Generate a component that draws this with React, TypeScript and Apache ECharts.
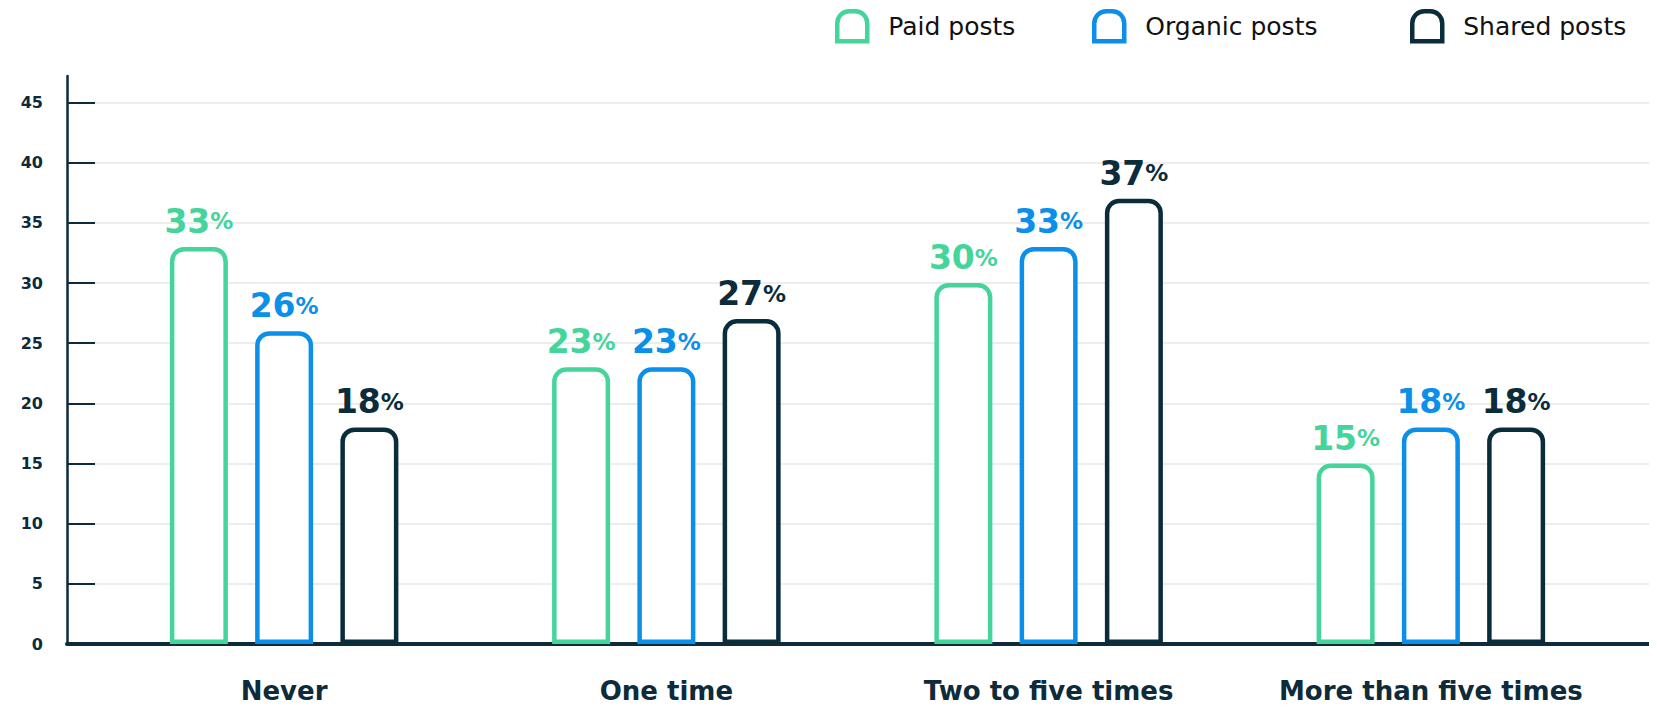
import React, { useEffect, useRef } from "react";
import * as echarts from "echarts";

const categories = ["Never", "One time", "Two to five times", "More than five times"];
const seriesNames = ["Paid posts", "Organic posts", "Shared posts"];
const paidPosts = [33, 23, 30, 15];
const organicPosts = [26, 23, 33, 18];
const sharedPosts = [18, 27, 37, 18];
const yTicks = { min: 0, max: 45, interval: 5 };

const COLORS = ["#45d49a", "#0b8fe9", "#0a2c3b"];
const DARK = "#0d2b3a";
const FONT = "DejaVu Sans";
const ICON = "path://M0,30 L0,12 A12,12 0 0 1 12,0 L18,0 A12,12 0 0 1 30,12 L30,30 Z";

export default function App() {
  const ref = useRef<HTMLDivElement>(null);
  useEffect(() => {
    if (!ref.current) return;
    const chart = echarts.init(ref.current, null, { renderer: "svg" });
    const values = [paidPosts, organicPosts, sharedPosts];
    const legendLefts = [835, 1092, 1410];
    const option: any = {
      animation: false,
      backgroundColor: "#ffffff",
      legend: seriesNames.map((n, i) => ({
        data: [{ name: n }],
        left: legendLefts[i],
        top: 9,
        padding: 0,
        icon: ICON,
        itemWidth: 30,
        itemHeight: 30,
        itemStyle: { color: "#ffffff", borderColor: COLORS[i], borderWidth: 4.5 },
        textStyle: { fontFamily: FONT, fontSize: 25, color: "#111111", padding: [0, 0, 0, 16] },
        selectedMode: false,
      })),
      grid: [
        { left: 67, right: 3, top: 76, bottom: 64 },
        { left: 67, right: 3, top: 102.5, bottom: 64 },
        { left: 93, right: 35, top: 102.5, bottom: 64 },
      ],
      xAxis: [
        {
          gridIndex: 0, type: "value", min: 0, max: 1,
          axisLine: { show: true, onZero: false, lineStyle: { color: DARK, width: 4 } },
          axisTick: { show: false }, axisLabel: { show: false }, splitLine: { show: false },
        },
        {
          gridIndex: 1, type: "value", min: 0, max: 1, show: false,
        },
        {
          gridIndex: 2, type: "category", data: categories,
          axisLine: { show: false }, axisTick: { show: false }, splitLine: { show: false },
          axisLabel: { interval: 0, margin: 34, fontFamily: FONT, fontSize: 26, fontWeight: "bold", color: DARK },
        },
      ],
      yAxis: [
        {
          gridIndex: 0, type: "value", min: 0, max: 1,
          axisLine: { show: true, lineStyle: { color: DARK, width: 2.5 } },
          axisTick: { show: false }, axisLabel: { show: false }, splitLine: { show: false },
        },
        {
          gridIndex: 1, type: "value", min: yTicks.min, max: yTicks.max, interval: yTicks.interval,
          axisLine: { show: false },
          axisTick: { show: true, inside: true, length: 28, lineStyle: { color: DARK, width: 2 } },
          axisLabel: { margin: 24, fontFamily: FONT, fontSize: 16, fontWeight: "bold", color: DARK },
          splitLine: { show: true, lineStyle: { color: "#e6e8e8", width: 1.5 } },
        },
        {
          gridIndex: 2, type: "value", min: yTicks.min, max: yTicks.max, show: false,
        },
      ],
      series: seriesNames.map((n, i) => ({
        name: n,
        type: "bar",
        xAxisIndex: 2,
        yAxisIndex: 2,
        data: values[i],
        barWidth: 58,
        barGap: "47%",
        itemStyle: {
          color: "#ffffff",
          borderColor: COLORS[i],
          borderWidth: 4.5,
          borderRadius: [12, 12, 0, 0],
        },
        label: {
          show: true,
          position: "top",
          distance: 9,
          formatter: "{v|{c}}{p|%}",
          rich: {
            v: { fontFamily: FONT, fontSize: 33, fontWeight: "bold", color: COLORS[i] },
            p: { fontFamily: FONT, fontSize: 23, fontWeight: "bold", color: COLORS[i] },
          },
        },
      })),
    };
    chart.setOption(option);
    return () => chart.dispose();
  }, []);
  return <div ref={ref} style={{ width: 1657, height: 708, margin: -8 }} />;
}
